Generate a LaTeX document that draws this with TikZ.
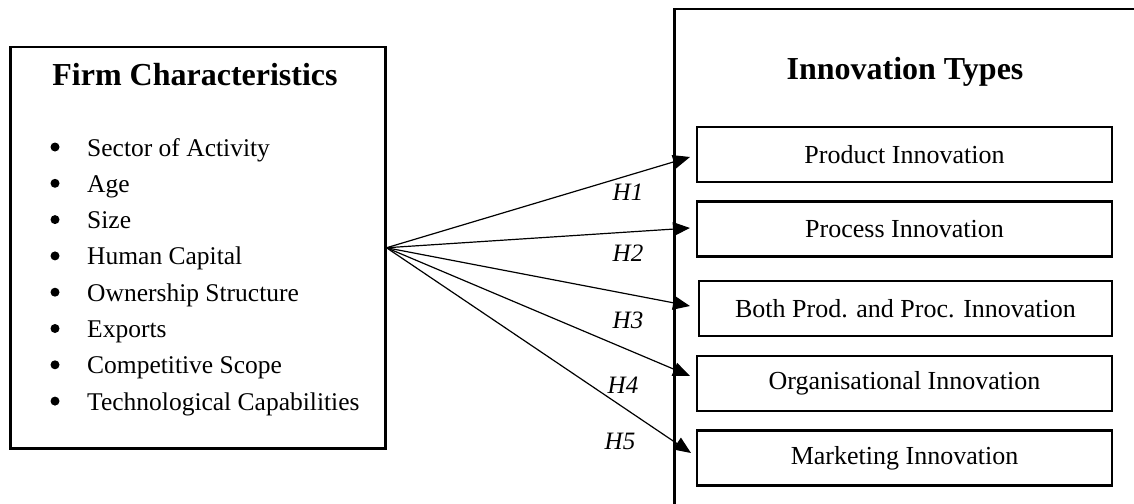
\documentclass[tikz,border=0pt]{standalone}
\usepackage{fontspec}
\setmainfont{Liberation Serif}
\usetikzlibrary{arrows.meta}
\begin{document}
\begin{tikzpicture}[x=1pt,y=-1pt,
  bigbox/.style={draw,line width=2.5pt,inner sep=0pt,anchor=north west},
  typebox/.style={draw,line width=2.5pt,inner sep=0pt,minimum width=415pt,minimum height=55pt,font=\fontsize{26}{30}\selectfont},
  title/.style={font=\fontsize{32}{36}\selectfont\bfseries,anchor=base},
  item/.style={font=\fontsize{25.5}{30}\selectfont,anchor=base west,inner sep=0pt},
  bullet/.style={circle,fill,inner sep=0pt,minimum size=9pt},
  hlabel/.style={font=\fontsize{25}{30}\selectfont\itshape,anchor=base,inner sep=0pt},
  link/.style={line width=1.2pt,-{Triangle[length=17pt,width=14pt]}}]
\useasboundingbox (0,0) rectangle (1134,503);
\clip (0,0) rectangle (1134,503);
% left box
\node[bigbox,minimum width=375pt,minimum height=401pt] (fc) at (9,46) {};
\node[title] (fct) at (195,85) {Firm Characteristics};
\foreach \i/\t in {0/Sector of Activity,1/Age,2/Size,3/Human Capital,4/Ownership Structure,5/Exports,6/Competitive Scope,7/Technological Capabilities}{
  \node[bullet] (b\i) at (55,147+36.3*\i) {};
  \node[item] (it\i) at (87,156+36.3*\i) {\t};
}
% right container
\node[bigbox,minimum width=480pt,minimum height=520pt] (it) at (673,8) {};
\node[title] (itt) at (905,79) {Innovation Types};
\node[typebox] (p1) at (904.5,154.5) {Product Innovation};
\node[typebox] (p2) at (904.5,229) {Process Innovation};
\node[typebox,minimum width=413pt] (p3) at (905.5,308.5) {Both Prod. and Proc. Innovation};
\node[typebox] (p4) at (904.5,383.5) {Organisational Innovation};
\node[typebox] (p5) at (904.5,458) {Marketing Innovation};
% arrow end points
\coordinate (t1) at (690,157);
\coordinate (t2) at (690,228);
\coordinate (t3) at (690,306);
\coordinate (t4) at (690,376);
\coordinate (t5) at (691,453);
\foreach \k in {1,...,5}{\draw[link] (fc.east) -- (t\k);}
\node[hlabel] (h1) at (628,200) {H1};
\node[hlabel] (h2) at (628,261) {H2};
\node[hlabel] (h3) at (628,328) {H3};
\node[hlabel] (h4) at (623,393) {H4};
\node[hlabel] (h5) at (620,449) {H5};
\end{tikzpicture}
\end{document}
